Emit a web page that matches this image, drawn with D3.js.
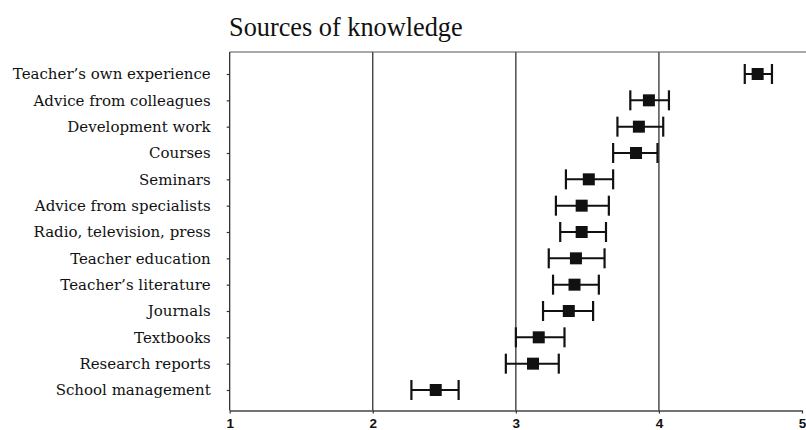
<!DOCTYPE html>
<html><head><meta charset="utf-8">
<script src="https://cdn.jsdelivr.net/npm/d3@7"></script>
<style>body{margin:0;background:#fff}svg{display:block}</style>
</head><body>
<svg id="c" width="806" height="430"></svg>
<script>
const categories = ["Teacher\u2019s own experience","Advice from colleagues","Development work","Courses","Seminars","Advice from specialists","Radio, television, press","Teacher education","Teacher\u2019s literature","Journals","Textbooks","Research reports","School management"];
const means = [4.69,3.93,3.86,3.84,3.51,3.46,3.46,3.42,3.41,3.37,3.16,3.12,2.44];
const lower = [4.60,3.80,3.71,3.68,3.35,3.28,3.31,3.23,3.26,3.19,3.00,2.93,2.27];
const upper = [4.79,4.07,4.03,3.99,3.68,3.65,3.63,3.62,3.58,3.54,3.34,3.30,2.60];
const xTicks = [1,2,3,4,5];
const title = "Sources of knowledge";

const svg = d3.select("#c");
const L = 229.7, R = 802, T = 52, B = 410.5;
const x = d3.scaleLinear().domain([1,5]).range([L,R]);
const y = d3.scalePoint().domain(categories).range([74,390]);

// title
svg.append("text").attr("x",229).attr("y",36).attr("font-family","'Liberation Serif',serif")
  .attr("font-size",26.3).attr("fill","#111").text(title);

// gridlines
svg.append("g").selectAll("line").data(xTicks.slice(1,4)).join("line")
  .attr("x1",d=>x(d)).attr("x2",d=>x(d)).attr("y1",T).attr("y2",B)
  .attr("stroke","#222").attr("stroke-width",1.2);

// frame
svg.append("line").attr("x1",L).attr("x2",R+4).attr("y1",T).attr("y2",T).attr("stroke","#555").attr("stroke-width",1.2);
svg.append("line").attr("x1",L).attr("x2",L).attr("y1",T).attr("y2",B).attr("stroke","#222").attr("stroke-width",1.2);

// x axis
const xAxis = d3.axisBottom(x).tickValues(xTicks).tickFormat(d3.format("d")).tickSize(3).tickSizeOuter(0);
const gx = svg.append("g").attr("transform",`translate(0,${B})`).call(xAxis);
gx.select(".domain").attr("stroke","#444").attr("stroke-width",1.6);
gx.selectAll(".tick line").attr("stroke","#333").attr("stroke-width",1.2);
gx.selectAll(".tick text").attr("font-family","'Liberation Sans',Arial,sans-serif").attr("font-weight","bold")
  .attr("font-size",13.5).attr("fill","#111").attr("dy","0.71em").attr("y",8);

// y axis
const yAxis = d3.axisLeft(y).tickSize(3).tickPadding(16);
const gy = svg.append("g").attr("transform",`translate(${L},0)`).call(yAxis);
gy.select(".domain").remove();
gy.selectAll(".tick line").attr("stroke","#333").attr("stroke-width",1.2);
gy.selectAll(".tick text").attr("font-family","'DejaVu Serif',serif").attr("font-size",15).attr("fill","#111");

// error bars
const data = categories.map((c,i)=>({c, m:means[i], lo:lower[i], hi:upper[i]}));
const g = svg.append("g");
g.selectAll("line.h").data(data).join("line").attr("class","h")
  .attr("x1",d=>x(d.lo)).attr("x2",d=>x(d.hi)).attr("y1",d=>y(d.c)).attr("y2",d=>y(d.c))
  .attr("stroke","#111").attr("stroke-width",2);
const capH = 10;
g.selectAll("line.cl").data(data).join("line").attr("class","cl")
  .attr("x1",d=>x(d.lo)).attr("x2",d=>x(d.lo)).attr("y1",d=>y(d.c)-capH).attr("y2",d=>y(d.c)+capH)
  .attr("stroke","#111").attr("stroke-width",2.2);
g.selectAll("line.cr").data(data).join("line").attr("class","cr")
  .attr("x1",d=>x(d.hi)).attr("x2",d=>x(d.hi)).attr("y1",d=>y(d.c)-capH).attr("y2",d=>y(d.c)+capH)
  .attr("stroke","#111").attr("stroke-width",2.2);
const s = 12;
g.selectAll("rect").data(data).join("rect")
  .attr("x",d=>x(d.m)-s/2).attr("y",d=>y(d.c)-s/2).attr("width",s).attr("height",s).attr("fill","#111");
</script>
</body></html>
